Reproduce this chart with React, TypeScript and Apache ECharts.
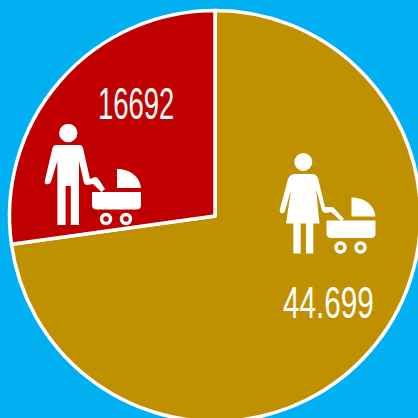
import React, { useEffect, useRef } from "react";
import * as echarts from "echarts";

const categories = ["Mujeres", "Hombres"];
const values = [44699, 16692];
const valueLabels = ["44.699", "16692"];
const sliceColors = ["#BF9000", "#C00000"];
const backgroundColor = "#00B0F0";

const circle = (cx: number, cy: number, r: number, reverse = false) => {
  const s = reverse ? 0 : 1;
  return `M${cx - r} ${cy}A${r} ${r} 0 1 ${s} ${cx + r} ${cy}A${r} ${r} 0 1 ${s} ${cx - r} ${cy}Z`;
};

const stroller = (dx: number, dy: number) => {
  const x = (v: number) => v + dx;
  const y = (v: number) => v + dy;
  return [
    `M${x(117)} ${y(169)}C${x(129)} ${y(169)} ${x(140)} ${y(176)} ${x(141)} ${y(188)}L${x(117)} ${y(188)}Z`,
    `M${x(92)} ${y(192)}L${x(141)} ${y(192)}L${x(141)} ${y(205)}Q${x(141)} ${y(209.5)} ${x(136)} ${y(209.5)}L${x(97)} ${y(209.5)}Q${x(92)} ${y(209.5)} ${x(92)} ${y(205)}Z`,
    circle(x(106), y(219), 6.2),
    circle(x(106), y(219), 2.8, true),
    circle(x(126), y(219), 6.2),
    circle(x(126), y(219), 2.8, true),
  ].join("");
};

const manPath =
  circle(68.3, 133, 9.2) +
  "M56 145L80 145Q82 145 83 148L90 179L95 177Q97 177 98.5 179L105 189L101.5 192L93 184L87 185Q85 185 84 183L79 161L79 225L70.8 225L70.8 186L65.6 186L65.6 225L57.4 225L57.4 161L51 182Q49 185 46 184Q44 183 45 180L52 150Q53 145 56 145Z" +
  stroller(0, 0);

const womanPath =
  circle(303.3, 162, 9) +
  "M295 174L312 174Q316 174 318 178L325 207L332 207Q333 207 334 208L344 219L341 221L331 212L326 213Q323 213 322 210L316 189L319.5 223.5L313.3 223.5L313.3 253.5L306 253.5L306 223.5L300.7 223.5L300.7 253.5L293.3 253.5L293.3 223.5L286 223.5L291 190L285 211Q284 214 281 213Q279 212 280 209L288 179Q290 174 295 174Z" +
  stroller(234.5, 28.5);

echarts.graphic.registerShape("manIcon", echarts.graphic.extendPath(manPath, {}));
echarts.graphic.registerShape("womanIcon", echarts.graphic.extendPath(womanPath, {}));

export default function App() {
  const ref = useRef<HTMLDivElement>(null);
  useEffect(() => {
    const chart = echarts.init(ref.current!, undefined, { renderer: "svg" });
    const font = { fontFamily: "Liberation Sans", fontSize: 45, fill: "#fff" };
    chart.setOption({
      animation: false,
      backgroundColor,
      series: [
        {
          type: "pie",
          center: [215, 216],
          radius: [0, 205.5],
          startAngle: 90,
          clockwise: true,
          silent: true,
          label: { show: false },
          labelLine: { show: false },
          itemStyle: { borderColor: "#fff", borderWidth: 3.5 },
          data: categories.map((name, i) => ({
            name,
            value: values[i],
            itemStyle: { color: sliceColors[i] },
          })),
        },
      ],
      graphic: [
        { type: "womanIcon", x: 0, y: 0, z: 10, style: { fill: "#fff" } },
        { type: "manIcon", x: 0, y: 0, z: 10, style: { fill: "#fff" } },
        { type: "text", x: 283, y: 280, scaleX: 0.66, z: 10, style: { ...font, text: valueLabels[0] } },
        { type: "text", x: 98, y: 81, scaleX: 0.61, z: 10, style: { ...font, text: valueLabels[1] } },
      ],
    });
    return () => chart.dispose();
  }, []);
  return <div ref={ref} style={{ position: "fixed", left: 0, top: 0, width: 418, height: 418 }} />;
}
